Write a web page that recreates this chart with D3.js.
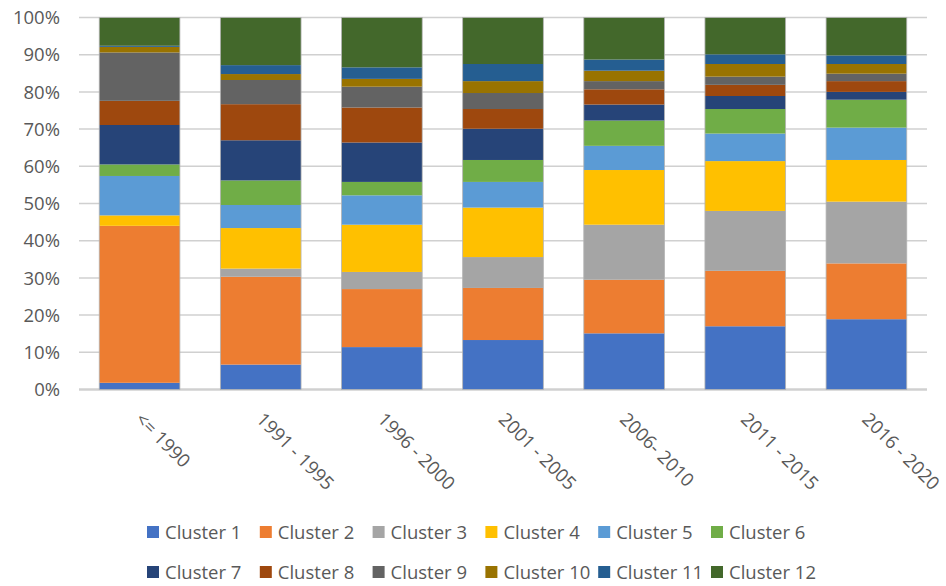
<!DOCTYPE html>
<html>
<head>
<meta charset="utf-8">
<script src="https://cdn.jsdelivr.net/npm/d3@7"></script>
<style>
	body { margin: 0; background: #fff; }
	svg text { font-family: "Open Sans", "Noto Sans", sans-serif; fill: #595959; }
</style>
</head>
<body>
<svg id="chart" width="946" height="586"></svg>
<script>
"use strict";

// Data (share of each cluster per period, in %)

const periods = ["<= 1990", "1991 - 1995", "1996 - 2000", "2001 - 2005", "2006- 2010", "2011 - 2015", "2016 - 2020"];

const clusters = ["Cluster 1", "Cluster 2", "Cluster 3", "Cluster 4", "Cluster 5", "Cluster 6",
	"Cluster 7", "Cluster 8", "Cluster 9", "Cluster 10", "Cluster 11", "Cluster 12"];

const cluster1 = [1.8, 6.7, 11.4, 13.3, 15.1, 17.0, 18.9];
const cluster2 = [42.2, 23.6, 15.6, 14.0, 14.4, 14.9, 15.0];
const cluster3 = [0, 2.2, 4.6, 8.3, 14.8, 16.1, 16.6];
const cluster4 = [2.8, 10.9, 12.7, 13.3, 14.7, 13.4, 11.2];
const cluster5 = [10.6, 6.2, 7.9, 6.9, 6.5, 7.4, 8.7];
const cluster6 = [3.1, 6.6, 3.6, 5.9, 6.8, 6.6, 7.5];
const cluster7 = [10.6, 10.8, 10.6, 8.4, 4.3, 3.5, 2.1];
const cluster8 = [6.5, 9.7, 9.4, 5.3, 4.1, 3.0, 2.9];
const cluster9 = [13.0, 6.5, 5.6, 4.3, 2.2, 2.2, 2.0];
const cluster10 = [1.5, 1.6, 2.1, 3.2, 2.8, 3.4, 2.6];
const cluster11 = [0.3, 2.4, 3.1, 4.6, 3.0, 2.6, 2.3];
const cluster12 = [7.6, 12.8, 13.4, 12.5, 11.3, 9.9, 10.2];

const yTicks = [0, 0.1, 0.2, 0.3, 0.4, 0.5, 0.6, 0.7, 0.8, 0.9, 1];

const colours = ["#4472C4", "#ED7D31", "#A5A5A5", "#FFC000", "#5B9BD5", "#70AD47",
	"#264478", "#9E480E", "#636363", "#997300", "#255E91", "#43682B"];

// Build table for d3.stack

const series = [cluster1, cluster2, cluster3, cluster4, cluster5, cluster6,
	cluster7, cluster8, cluster9, cluster10, cluster11, cluster12];

const table = periods.map(function(p, i) {
	var row = { period: p };
	clusters.forEach(function(c, j) {
		row[c] = series[j][i];
	});
	return row;
});

const stacked = d3.stack()
	.keys(clusters)
	.offset(d3.stackOffsetExpand)(table);

// Scales

const svg = d3.select("#chart");

const x = d3.scaleBand()
	.domain(periods)
	.range([79, 927])
	.paddingInner(0.334)
	.paddingOuter(0.167);

const y = d3.scaleLinear()
	.domain([0, 1])
	.range([389.5, 17.5]);

const colour = d3.scaleOrdinal()
	.domain(clusters)
	.range(colours);

// Gridlines

svg.append("g")
	.selectAll("line")
	.data(yTicks)
	.enter()
	.append("line")
	.attr("x1", 79)
	.attr("x2", 927)
	.attr("y1", function(d) { return y(d); })
	.attr("y2", function(d) { return y(d); })
	.style("stroke", "#d0d0d0")
	.style("stroke-width", function(d) { return d == 0 ? 2.5 : 1.5; });

// Y axis labels

svg.append("g")
	.selectAll("text")
	.data(yTicks)
	.enter()
	.append("text")
	.attr("x", 60)
	.attr("y", function(d) { return y(d); })
	.attr("dy", "0.36em")
	.attr("text-anchor", "end")
	.style("font-size", "18.5px")
	.text(d3.format(".0%"));

// Bars

svg.append("g")
	.selectAll("g")
	.data(stacked)
	.enter()
	.append("g")
	.style("fill", function(d) { return colour(d.key); })
	.selectAll("rect")
	.data(function(d) { return d; })
	.enter()
	.append("rect")
	.attr("x", function(d) { return x(d.data.period); })
	.attr("y", function(d) { return y(d[1]); })
	.attr("width", x.bandwidth())
	.attr("height", function(d) { return y(d[0]) - y(d[1]); });

// thin outline round each bar
svg.append("g")
	.selectAll("rect")
	.data(periods)
	.enter()
	.append("rect")
	.attr("x", function(d) { return x(d); })
	.attr("y", y(1))
	.attr("width", x.bandwidth())
	.attr("height", y(0) - y(1))
	.style("fill", "none")
	.style("stroke", "#b4b4b4")
	.style("stroke-width", 0.8);

// X axis labels, rotated 45 degrees

svg.append("g")
	.selectAll("text")
	.data(periods)
	.enter()
	.append("text")
	.attr("transform", function(d) {
		return "translate(" + (x(d) + x.bandwidth() / 2 + 4) + ",411) rotate(45)";
	})
	.attr("dy", "0.72em")
	.style("font-size", "18.5px")
	.text(function(d) { return d; });

// Legend (two rows of six)

const legend = svg.append("g")
	.selectAll("g")
	.data(clusters)
	.enter()
	.append("g")
	.attr("transform", function(d, i) {
		return "translate(" + (147 + (i % 6) * 112.8) + "," + (532 + Math.floor(i / 6) * 40) + ")";
	});

legend.append("rect")
	.attr("x", 0)
	.attr("y", -6)
	.attr("width", 12)
	.attr("height", 12)
	.style("fill", function(d) { return colour(d); });

legend.append("text")
	.attr("x", 18)
	.attr("dy", "0.36em")
	.style("font-size", "18.5px")
	.text(function(d) { return d; });
</script>
</body>
</html>
